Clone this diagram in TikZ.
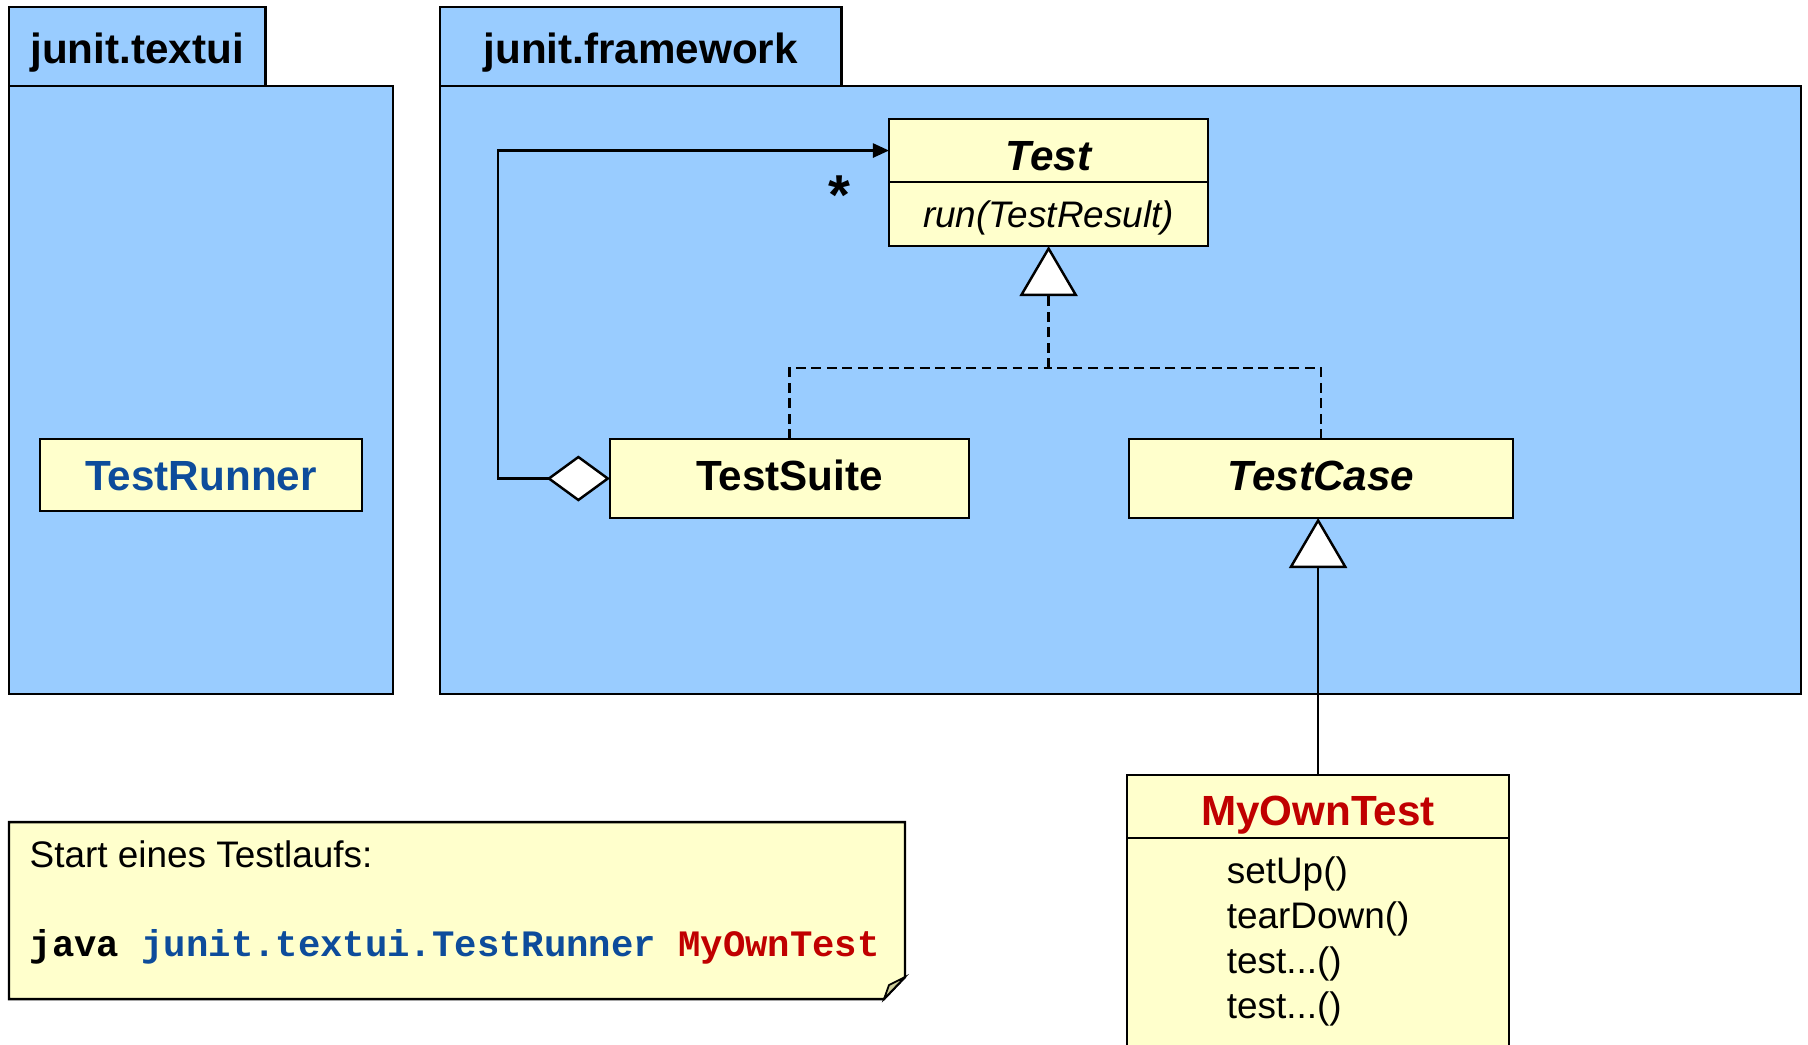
\documentclass[tikz,border=0pt]{standalone}
\usepackage{fontspec}
\setmainfont{Liberation Sans}
\setmonofont{Liberation Mono}
\usetikzlibrary{positioning,arrows.meta}

\definecolor{azulpaquete}{HTML}{99CCFF}
\definecolor{amarilloclase}{HTML}{FFFFCC}
\definecolor{azultexto}{HTML}{0D4C9B}
\definecolor{rojotexto}{HTML}{C00000}
\definecolor{pliegue}{HTML}{CCCC99}

\begin{document}
\begin{tikzpicture}[x=0.01cm, y=-0.01cm,
  paquete/.style={draw=black, line width=0.8pt, fill=azulpaquete},
  pestana/.style={paquete, inner sep=0pt, outer sep=0pt, minimum height=0.79cm,
    text height=9.6pt, text depth=0pt, font=\bfseries\fontsize{12}{14}\selectfont},
  clase/.style={draw=black, line width=0.7pt, fill=amarilloclase, inner sep=0pt,
    outer sep=0pt, text height=8.6pt, text depth=0pt, font=\bfseries\fontsize{12}{14}\selectfont},
  texto/.style={inner sep=0pt, font=\fontsize{10.5}{12.8}\selectfont},
  hereda/.style={line width=0.7pt, -{Triangle[fill=white, length=0.5cm, width=0.58cm]}},
  realiza/.style={line width=0.7pt, dash pattern=on 2.8pt off 1.6pt},
  agrega/.style={line width=0.7pt,
    {Diamond[fill=white, length=0.63cm, width=0.46cm]}-{Triangle[length=0.16cm, width=0.14cm]}}]

\useasboundingbox (0,0) rectangle (1808,1044);
\clip (0,0) rectangle (1808,1044);

% Paquete junit.textui
\draw[paquete] (9,86) rectangle (393,694);
\node[pestana, minimum width=2.56cm, anchor=south west] (textui) at (9,86) {junit.textui};

% Paquete junit.framework
\draw[paquete] (440,86) rectangle (1801,694);
\node[pestana, minimum width=4.01cm, anchor=south west] (framework) at (440,86) {junit.framework};

% Clases
\node[clase, minimum width=3.22cm, minimum height=0.72cm, text=azultexto] (runner) at (201,475) {TestRunner};

\node[clase, minimum width=3.19cm, minimum height=0.63cm, anchor=north west, text height=11.2pt,
  font=\bfseries\itshape\fontsize{12}{14}\selectfont] (test) at (889,119) {Test};
\node[clase, minimum width=3.19cm, minimum height=0.64cm, below=0pt of test, text height=7.5pt,
  font=\itshape\fontsize{10.5}{12.8}\selectfont] (testops) {run(TestResult)};

\node[clase, minimum width=3.59cm, minimum height=0.79cm, text height=6.6pt] (suite) at (789.5,478.5) {TestSuite};
\node[clase, minimum width=3.84cm, minimum height=0.79cm, text height=6.6pt,
  font=\bfseries\itshape\fontsize{12}{14}\selectfont] (caso) at (1321,478.5) {TestCase};

% Clase de prueba propia
\node[clase, minimum width=3.82cm, minimum height=0.63cm, anchor=north west, text height=10.9pt,
  text=rojotexto] (mio) at (1127,775) {MyOwnTest};
\node[clase, minimum width=3.82cm, minimum height=3cm, below=0pt of mio] (mioops) {};
\node[texto, align=left, below=0.18cm of mioops.north] (miometodos) {setUp()\\tearDown()\\test...()\\test...()};

% Agregacion TestSuite -> Test
\draw[agrega] (suite.west) -- ++(-112,0) |- (test.west);
\node[font=\bfseries\fontsize{16}{16}\selectfont] (mult) at (839,195) {*};

% Realizacion de Test
\path (testops.south) ++(0,122) coordinate (union);
\draw[realiza] (suite.north) |- (union);
\draw[realiza] (caso.north) |- (union);
\draw[realiza, hereda] (union) -- (testops.south);

% Herencia MyOwnTest -> TestCase
\draw[hereda] (mio.north) -- (mio.north |- caso.south);

% Nota
\draw[line width=0.7pt, fill=amarilloclase] (9,822) -- (905,822) -- (905,977) -- (884,999) -- (9,999) -- cycle;
\draw[line width=0.5pt, fill=pliegue] (905,977) -- (889,985) -- (884,999) -- cycle;
\node[texto, anchor=base west] (notatitulo) at (29,867) {Start eines Testlaufs:};
\node[texto, anchor=base west, font=\ttfamily\bfseries\fontsize{10.6}{12.8}\selectfont] (notacomando) at (29,956)
  {java \textcolor{azultexto}{junit.textui.TestRunner} \textcolor{rojotexto}{MyOwnTest}};

\end{tikzpicture}
\end{document}
